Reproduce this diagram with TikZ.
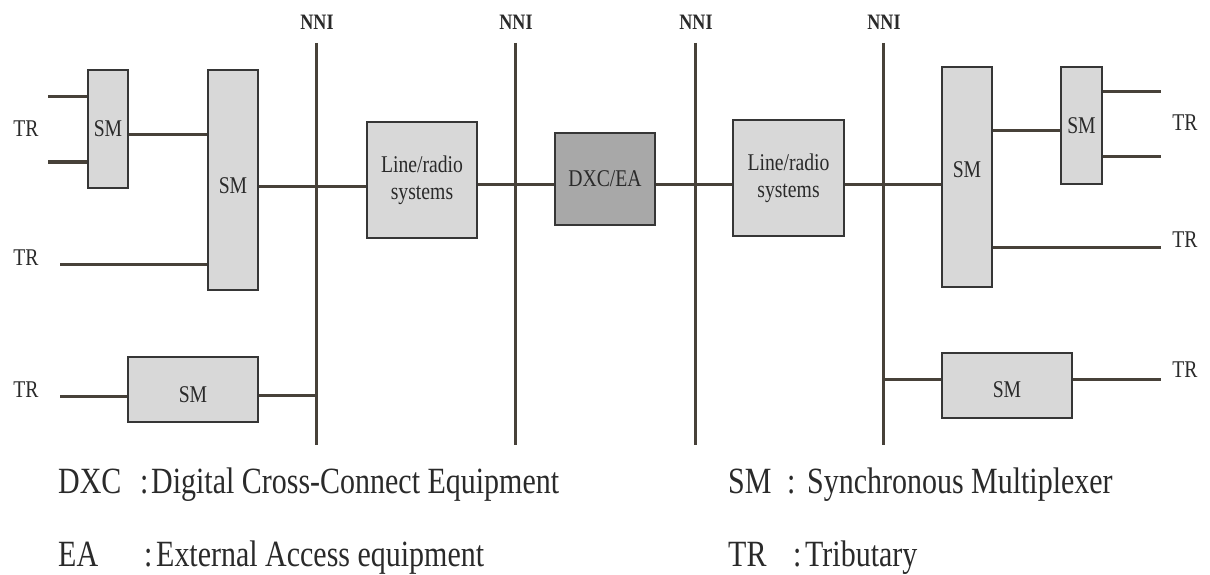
\documentclass[tikz,border=0pt]{standalone}
\usepackage{fontspec}
\setmainfont{Liberation Serif}
% narrow, slightly condensed serif lettering
\newcommand{\cnd}[1]{\scalebox{0.82}[1]{#1}}
\newcommand{\lgd}[1]{\scalebox{0.81}[1]{#1}}
\definecolor{wire}{HTML}{474139}
\definecolor{boxline}{HTML}{363636}
\definecolor{boxfill}{HTML}{D8D8D8}
\definecolor{dxcfill}{HTML}{A8A8A8}
\definecolor{txt}{HTML}{2A2A2A}
\begin{document}
\begin{tikzpicture}[x=1pt,y=-1pt,
  unit/.style={draw=boxline, line width=2pt, fill=boxfill, inner sep=0pt,
    text=txt, font=\fontsize{24}{27}\selectfont, align=center},
  crossconn/.style={unit, fill=dxcfill},
  unitlabel/.style={inner sep=0pt, text=txt, font=\fontsize{24}{27}\selectfont},
  wire/.style={draw=wire, line width=3pt},
  busline/.style={draw=wire, line width=3pt},
  buslabel/.style={inner sep=0pt, text=txt, font=\fontsize{22}{24}\selectfont\bfseries},
  trib/.style={inner sep=0pt, text=txt, font=\fontsize{24}{26}\selectfont},
  legend/.style={inner sep=0pt, anchor=base west, text=txt, font=\fontsize{37}{40}\selectfont}
]
\useasboundingbox[fill=white] (0,0) rectangle (1210,575);

% NNI interfaces (vertical buses)
\foreach \n/\x in {1/316,2/515,3/695,4/883}{
  \coordinate (nni\n top) at (\x,43);
  \coordinate (nni\n bot) at (\x,445);
  \node[buslabel] (nni\n lab) at (\x+1,22) {\cnd{NNI}};
  \draw[busline] (nni\n top) -- (nni\n bot);
}

% equipment blocks
\node[unit, minimum width=40pt, minimum height=118pt] (smL) at (108,129) {\cnd{SM}};
\node[unit, minimum width=50pt, minimum height=220pt,
  label={[unitlabel, name=bigLtxt, yshift=-6pt]center:\cnd{SM}}] (bigL) at (233,180) {};
\node[unit, minimum width=130pt, minimum height=65pt,
  label={[unitlabel, name=smBLtxt, yshift=-5pt]center:\cnd{SM}}] (smBL) at (193,389.5) {};
\node[unit, minimum width=110pt, minimum height=116pt] (lr1) at (422,180) {\cnd{Line/radio}\\\cnd{systems}};
\node[crossconn, minimum width=100pt, minimum height=92pt] (dxc) at (605,179) {\cnd{DXC/EA}};
\node[unit, minimum width=111pt, minimum height=116pt] (lr2) at (788.5,178) {\cnd{Line/radio}\\\cnd{systems}};
\node[unit, minimum width=50pt, minimum height=220pt,
  label={[unitlabel, name=bigRtxt, yshift=7pt]center:\cnd{SM}}] (bigR) at (967,177) {};
\node[unit, minimum width=41pt, minimum height=117pt] (smR) at (1081.5,125.5) {\cnd{SM}};
\node[unit, minimum width=130pt, minimum height=65pt,
  label={[unitlabel, name=smBRtxt, yshift=-4pt]center:\cnd{SM}}] (smBR) at (1007,385.5) {};

% tributary ends
\coordinate (tl1) at (48,97);
\coordinate (tl2) at (48,162);
\coordinate (tl3) at (60,264);
\coordinate (tl4) at (60,396);
\coordinate (tr1) at (1161,92);
\coordinate (tr2) at (1161,157);
\coordinate (tr3) at (1161,247);
\coordinate (tr4) at (1161,379);

\node[trib] (trA) at (26,129) {\cnd{TR}};
\node[trib] (trB) at (26,258) {\cnd{TR}};
\node[trib] (trC) at (26,390) {\cnd{TR}};
\node[trib] (trD) at (1185,123) {\cnd{TR}};
\node[trib] (trE) at (1185,240) {\cnd{TR}};
\node[trib] (trF) at (1185,370) {\cnd{TR}};

% left side links
\draw[wire] (tl1) -- (smL.west |- tl1);
\draw[wire] (tl2) -- (smL.west |- tl2);
\draw[wire] (smL.east |- 0,135) -- (bigL.west |- 0,135);
\draw[wire] (tl3) -- (bigL.west |- tl3);
\draw[wire] (bigL.east |- 0,186) -- (lr1.west |- 0,186);
\draw[wire] (tl4) -- (smBL.west |- tl4);
\draw[wire] (smBL.east |- 0,395) -- (nni1top |- 0,395);

% core chain
\draw[wire] (lr1.east |- 0,184) -- (dxc.west |- 0,184);
\draw[wire] (dxc.east |- 0,184) -- (lr2.west |- 0,184);
\draw[wire] (lr2.east |- 0,184) -- (bigR.west |- 0,184);

% right side links
\draw[wire] (bigR.east |- 0,131) -- (smR.west |- 0,131);
\draw[wire] (smR.east |- tr1) -- (tr1);
\draw[wire] (smR.east |- tr2) -- (tr2);
\draw[wire] (bigR.east |- tr3) -- (tr3);
\draw[wire] (nni4top |- tr4) -- (smBR.west |- tr4);
\draw[wire] (smBR.east |- tr4) -- (tr4);

% legend
\node[legend] (kDXC) at (58,493) {\lgd{DXC}};
\node[legend] (cDXC) at (140,493) {\lgd{:}};
\node[legend] (dDXC) at (151,493) {\lgd{Digital Cross-Connect Equipment}};
\node[legend] (kEA) at (58,566) {\lgd{EA}};
\node[legend] (cEA) at (144,566) {\lgd{:}};
\node[legend] (dEA) at (156,566) {\lgd{External Access equipment}};
\node[legend] (kSM) at (728,493) {\lgd{SM}};
\node[legend] (cSM) at (787,493) {\lgd{:}};
\node[legend] (dSM) at (807,493) {\lgd{Synchronous Multiplexer}};
\node[legend] (kTR) at (728,566) {\lgd{TR}};
\node[legend] (cTR) at (793,566) {\lgd{:}};
\node[legend] (dTR) at (805,566) {\lgd{Tributary}};
\end{tikzpicture}
\end{document}
